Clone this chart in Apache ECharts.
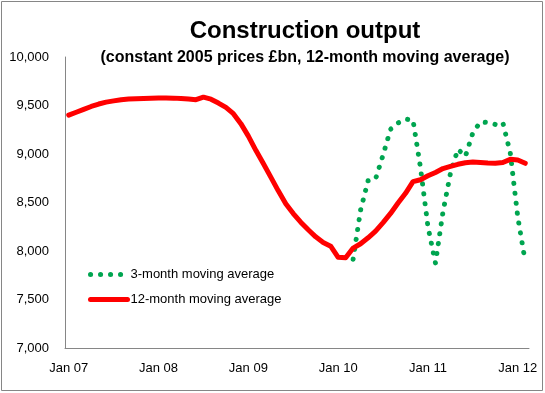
<!DOCTYPE html>
<html>
<head>
<meta charset="utf-8">
<script src="https://cdn.jsdelivr.net/npm/echarts@6/dist/echarts.min.js"></script>
<style>
html,body{margin:0;padding:0;background:#fff;}
#chart{width:545px;height:393px;}
</style>
</head>
<body>
<div id="chart"></div>
<script>
// ---- data ----
const monthNames = ['Jan','Feb','Mar','Apr','May','Jun','Jul','Aug','Sep','Oct','Nov','Dec'];
const yearLabels = ['07','08','09','10','11','12'];
const monthCount = 62; // Jan 07 .. Feb 12
const categories = [];
for (const y of yearLabels) for (const m of monthNames) categories.push(m + ' ' + y);
categories.length = monthCount;

const yTicks = [7000, 7500, 8000, 8500, 9000, 9500, 10000];

// 12-month moving average, Jan 07 .. Feb 12
const avg12 = [
  9400, 9430, 9460, 9490, 9515, 9535, 9548, 9560, 9566, 9570, 9573, 9575,
  9577, 9577, 9576, 9572, 9566, 9560, 9586, 9565, 9525, 9480, 9416, 9313,
  9184, 9038, 8903, 8762, 8620, 8487, 8386, 8297, 8219, 8146, 8088, 8050,
  7935, 7930, 8030, 8075, 8136, 8205, 8293, 8387, 8494, 8595, 8715, 8735,
  8775, 8810, 8850, 8872, 8894, 8910, 8918, 8913, 8908, 8905, 8912, 8945,
  8938, 8904
];

// 3-month moving average, Mar 10 .. Feb 12
const avg3Start = 'Mar 10';
const avg3 = [
  7915, 8423, 8725, 8742, 8990, 9255, 9320, 9360, 9350, 8860, 8250, 7875,
  8400, 8800, 9050, 8975, 9220, 9330, 9325, 9305, 9325, 9010, 8350, 7890
];

// ---- chart ----
const startIdx = categories.indexOf(avg3Start);
const avg3Data = new Array(startIdx).fill(null).concat(avg3);

const chart = echarts.init(document.getElementById('chart'), null, {renderer: 'canvas'});
const font = 'Liberation Sans, Arial, sans-serif';
const green = '#00A550';
const red = '#FF0000';
const greenLine = {color: green, width: 5, type: [0.1, 9.9], cap: 'round', join: 'round'};
const redLine = {color: red, width: 5, cap: 'round', join: 'round'};
chart.setOption({
  animation: false,
  backgroundColor: '#ffffff',
  title: [
    {text: 'Construction output', left: 300, top: 14, textAlign: 'center',
     textStyle: {fontFamily: font, fontSize: 24, fontWeight: 'bold', color: '#000'}},
    {text: '(constant 2005 prices £bn, 12-month moving average)', left: 300, top: 45, textAlign: 'center',
     textStyle: {fontFamily: font, fontSize: 16, fontWeight: 'bold', color: '#000'}}
  ],
  graphic: [{
    type: 'rect', shape: {x: 1.5, y: 1.5, width: 541, height: 389},
    style: {fill: 'none', stroke: '#868686', lineWidth: 1}, silent: true
  }],
  legend: {
    orient: 'vertical', left: 88, top: 268, padding: 0, itemWidth: 37, itemHeight: 1, itemGap: 12,
    itemStyle: {opacity: 0},
    textStyle: {fontFamily: font, fontSize: 13, color: '#000', padding: [0, 0, 0, -2]},
    data: [
      {name: '3-month moving average', lineStyle: greenLine},
      {name: '12-month moving average', lineStyle: redLine}
    ]
  },
  grid: {left: 65, right: 16, top: 57, bottom: 45, containLabel: false},
  xAxis: {
    type: 'category', data: categories, boundaryGap: true,
    axisLine: {lineStyle: {color: '#868686', width: 1}},
    axisTick: {show: false},
    axisLabel: {interval: 11, margin: 14, fontFamily: font, fontSize: 13, color: '#000'},
    splitLine: {show: false}
  },
  yAxis: {
    type: 'value', min: yTicks[0], max: yTicks[yTicks.length - 1], interval: 500,
    axisLine: {show: true, lineStyle: {color: '#868686', width: 1}},
    axisTick: {show: false},
    axisLabel: {margin: 16, fontFamily: font, fontSize: 13, color: '#000',
      formatter: v => v.toLocaleString('en-US')},
    splitLine: {show: false}
  },
  series: [
    {name: '3-month moving average', type: 'line', data: avg3Data, symbol: 'none', connectNulls: false,
     itemStyle: {color: green}, lineStyle: greenLine, z: 2},
    {name: '12-month moving average', type: 'line', data: avg12, symbol: 'none',
     itemStyle: {color: red}, lineStyle: redLine, z: 3}
  ]
});
</script>
</body>
</html>
